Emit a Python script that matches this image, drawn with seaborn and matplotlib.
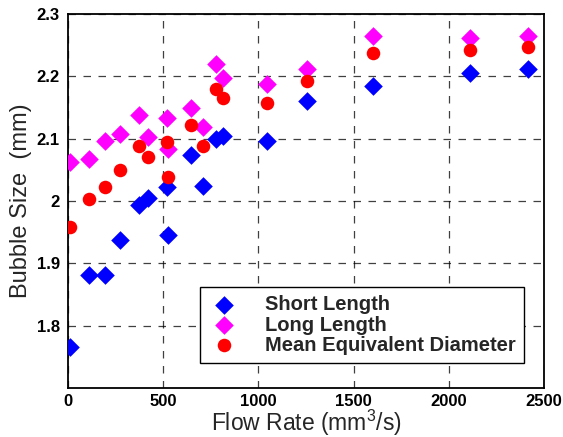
import matplotlib
matplotlib.use("Agg")
import matplotlib.pyplot as plt
import pandas as pd
import seaborn as sns

# Values
flow_rate = [10, 110, 195, 275, 375, 420, 518, 524, 645, 707, 776, 815,
             1046, 1256, 1602, 2109, 2415]
short_length = [1.766, 1.882, 1.881, 1.937, 1.993, 2.005, 2.022, 1.945, 2.074,
                2.024, 2.100, 2.105, 2.097, 2.160, 2.185, 2.205, 2.212]
long_length = [2.062, 2.067, 2.096, 2.107, 2.138, 2.103, 2.133, 2.084, 2.149,
               2.119, 2.220, 2.197, 2.187, 2.212, 2.265, 2.261, 2.265]
mean_diameter = [1.959, 2.003, 2.023, 2.050, 2.088, 2.070, 2.095, 2.039, 2.122,
                 2.088, 2.180, 2.166, 2.157, 2.193, 2.238, 2.243, 2.247]

series_names = ["Short Length", "Long Length", "Mean Equivalent Diameter"]
x_ticks = [0, 500, 1000, 1500, 2000, 2500]
y_ticks = [1.8, 1.9, 2.0, 2.1, 2.2, 2.3]
y_tick_labels = ["1.8", "1.9", "2", "2.1", "2.2", "2.3"]


def _build_frame() -> pd.DataFrame:
    parts = []
    for name, vals in zip(series_names, [short_length, long_length, mean_diameter]):
        parts.append(pd.DataFrame({"flow": flow_rate, "size": vals, "series": name}))
    return pd.concat(parts, ignore_index=True)


sns.set_style("white")
plt.rcParams["font.family"] = ["Liberation Sans", "DejaVu Sans"]
plt.rcParams["mathtext.fontset"] = "custom"
plt.rcParams["mathtext.rm"] = "Liberation Sans"

df = _build_frame()

fig = plt.figure(figsize=(5.63, 4.37), dpi=100)
ax = fig.add_axes([68 / 563, 1 - 388 / 437, 476 / 563, 374 / 437])

palette = {"Short Length": "#0000ff", "Long Length": "#ff00ff",
           "Mean Equivalent Diameter": "#ff0000"}
markers = {"Short Length": "D", "Long Length": "D", "Mean Equivalent Diameter": "o"}

# draw each series with its own size, diamonds and circles differ
for name in series_names:
    sub = df[df["series"] == name]
    sns.scatterplot(data=sub, x="flow", y="size", color=palette[name],
                    marker=markers[name], s=90 if markers[name] == "D" else 95,
                    linewidth=0, label=name, ax=ax, zorder=3)

ax.set_xlim(0, 2500)
ax.set_ylim(1.7, 2.3)
ax.set_xticks(x_ticks)
ax.set_yticks(y_ticks)
ax.set_yticklabels(y_tick_labels)
for lab in ax.get_xticklabels() + ax.get_yticklabels():
    lab.set_fontweight("bold")
    lab.set_fontsize(12)
ax.tick_params(direction="in", length=5, width=1, colors="black", pad=6)
ax.tick_params(axis="x", pad=4.5)

ax.grid(True, color="black", linestyle=(0, (6, 6)), linewidth=0.9, alpha=0.75)
for spine in ax.spines.values():
    spine.set_color("black")
    spine.set_linewidth(1.3)

ax.set_xlabel("Flow Rate (mm$\\mathregular{^{3}}$/s)", fontsize=16.5, labelpad=-1)
ax.set_ylabel("Bubble Size  (mm)", fontsize=17, labelpad=3)

leg = ax.legend(loc="lower right", bbox_to_anchor=(0.957, 0.068),
                prop={"weight": "bold", "size": 14.5}, frameon=True,
                fancybox=False, edgecolor="black", framealpha=1,
                borderpad=0.4, handletextpad=1.2, labelspacing=0.05,
                handlelength=1.6, borderaxespad=0)
leg.get_frame().set_linewidth(1.0)

fig.savefig("out.png", dpi=100)
